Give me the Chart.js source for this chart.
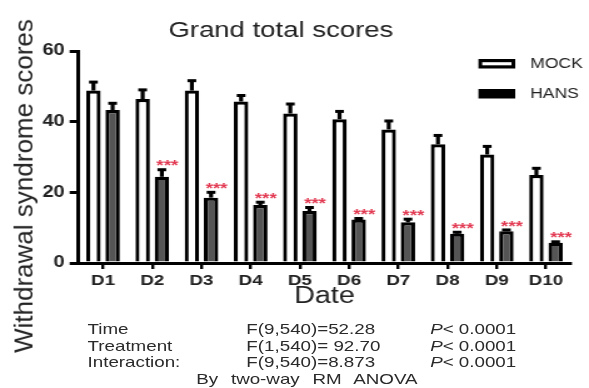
<!DOCTYPE html>
<html>
<head>
<meta charset="utf-8">
<script src="https://cdn.jsdelivr.net/npm/chart.js@4.4.0/dist/chart.umd.min.js"></script>
<style>
  html, body { margin: 0; padding: 0; background: #fff; overflow: hidden; }
  body { width: 589px; height: 388px; position: relative; font-family: "Liberation Sans", Arial, sans-serif; color: #222; }
  #wrap { position: absolute; left: 0; top: 0; width: 471px; height: 388px; transform: scaleX(1.2505); transform-origin: 0 0; }
  #ytitle { position: absolute; left: 24px; top: 186px; transform: translate(-50%, -50%) rotate(-90deg); font-size: 26px; white-space: nowrap; color: #222; }
  .row { position: absolute; font-size: 15px; line-height: 17px; white-space: nowrap; color: #2a2a2a; }
  .row span { position: absolute; top: 0; }
  .row i { font-style: italic; }
</style>
</head>
<body>
<div id="wrap">
  <canvas id="chart"></canvas>
  <div class="row" style="top:320px"><span style="left:70px">Time</span><span style="left:197px">F(9,540)=52.28</span><span style="left:344px"><i>P</i>&lt; 0.0001</span></div>
  <div class="row" style="top:336.5px"><span style="left:70px">Treatment</span><span style="left:197px">F(1,540)= 92.70</span><span style="left:344px"><i>P</i>&lt; 0.0001</span></div>
  <div class="row" style="top:353px"><span style="left:70px">Interaction:</span><span style="left:197px">F(9,540)=8.873</span><span style="left:344px"><i>P</i>&lt; 0.0001</span></div>
  <div class="row" style="top:369.5px; left:157px; word-spacing:6px">By two-way RM ANOVA</div>
</div>
<div id="ytitle">Withdrawal syndrome scores</div>
<script>
const days = ["D1", "D2", "D3", "D4", "D5", "D6", "D7", "D8", "D9", "D10"];
const mock = [48.8, 46.4, 48.8, 45.7, 42.3, 40.7, 37.8, 33.6, 30.7, 24.9];
const mockSem = [2.4, 2.6, 2.8, 1.7, 2.7, 2.2, 2.4, 2.5, 2.3, 1.9];
const hans = [43.3, 24.4, 18.5, 16.4, 14.7, 12.3, 11.5, 8.3, 9.0, 5.7];
const hansSem = [1.9, 2.0, 1.5, 0.8, 1.0, 0.3, 0.9, 0.4, 0.35, 0.3];
const stars = ["", "***", "***", "***", "***", "***", "***", "***", "***", "***"];
const yTicks = [0, 20, 40, 60];

const FONT = '"Liberation Sans", Arial, sans-serif';
const sems = [mockSem, hansSem];

const extras = {
  id: "extras",
  afterDatasetsDraw(chart) {
    const ctx = chart.ctx;
    const y = chart.scales.y;
    ctx.save();
    ctx.strokeStyle = "#000";
    chart.data.datasets.forEach((ds, i) => {
      const meta = chart.getDatasetMeta(i);
      meta.data.forEach((bar, j) => {
        const top = y.getPixelForValue(ds.data[j] + sems[i][j]);
        ctx.lineWidth = 3.2;
        ctx.beginPath();
        ctx.moveTo(bar.x, bar.y);
        ctx.lineTo(bar.x, top);
        ctx.stroke();
        ctx.lineWidth = 3;
        ctx.beginPath();
        ctx.moveTo(bar.x - 3.5, top);
        ctx.lineTo(bar.x + 3.5, top);
        ctx.stroke();
        if (i === 1 && stars[j]) {
          ctx.fillStyle = "#e23a52";
          ctx.font = "bold 15px " + FONT;
          ctx.textAlign = "center";
          ctx.textBaseline = "alphabetic";
          ctx.fillText(stars[j], bar.x + 4.4, top - 8 + 0.57 * 15);
        }
      });
    });
    ctx.restore();
  },
  afterDraw(chart) {
    const ctx = chart.ctx;
    ctx.save();
    ctx.fillStyle = "#222";
    ctx.font = "22px " + FONT;
    ctx.textAlign = "left";
    ctx.textBaseline = "alphabetic";
    ctx.fillText("Grand total scores", 134.7, 37.3);

    // legend
    const bx = 382.6, bw = 29.4, bh = 9.5;
    const rows = [59, 89];
    chart.data.datasets.forEach((ds, i) => {
      const by = rows[i];
      ctx.fillStyle = "#000";
      ctx.fillRect(bx, by, bw, bh);
      if (i === 0) {
        ctx.fillStyle = ds.backgroundColor;
        ctx.fillRect(bx + 3, by + 3.2, bw - 6, bh - 6.4);
      }
      ctx.fillStyle = "#222";
      ctx.font = "14px " + FONT;
      ctx.textBaseline = "middle";
      ctx.fillText(ds.label, 424, by + bh / 2 + 0.5);
    });
    ctx.restore();
  }
};

new Chart(document.getElementById("chart"), {
  type: "bar",
  data: {
    labels: days,
    datasets: [
      { label: "MOCK", data: mock, backgroundColor: "#ffffff", borderColor: "#000", borderWidth: 3.2 },
      { label: "HANS", data: hans, backgroundColor: "#555555", borderColor: "#000", borderWidth: 3.2 }
    ]
  },
  options: {
    responsive: true,
    maintainAspectRatio: false,
    animation: false,
    categoryPercentage: 0.78,
    barPercentage: 0.75,
    layout: { padding: { left: 0, right: 14.7, top: 51, bottom: 77.8 } },
    plugins: { legend: { display: false }, tooltip: { enabled: false }, title: { display: false } },
    scales: {
      x: {
        z: 1,
        grid: { display: true, drawOnChartArea: false, drawTicks: true, tickLength: 6, color: "#000", lineWidth: 2.4, offset: false },
        border: { display: true, color: "#000", width: 3 },
        ticks: { color: "#222", font: { family: FONT, size: 15, weight: "bold" }, padding: 3, maxRotation: 0 },
        title: { display: true, text: "Date", color: "#222", font: { family: FONT, size: 23 }, padding: { top: 0, bottom: 0 } },
        afterFit(scale) { scale.height = 47.2; }
      },
      y: {
        z: 1,
        min: 0,
        max: 60,
        afterBuildTicks(scale) { scale.ticks = yTicks.map((v) => ({ value: v })); },
        grid: { display: true, drawOnChartArea: false, drawTicks: true, tickLength: 7, color: "#000", lineWidth: 3 },
        border: { display: true, color: "#000", width: 3 },
        ticks: { color: "#222", font: { family: FONT, size: 16, weight: "bold" }, padding: 4 },
        afterFit(scale) { scale.width = 62.7; }
      }
    }
  },
  plugins: [extras]
});
</script>
</body>
</html>
